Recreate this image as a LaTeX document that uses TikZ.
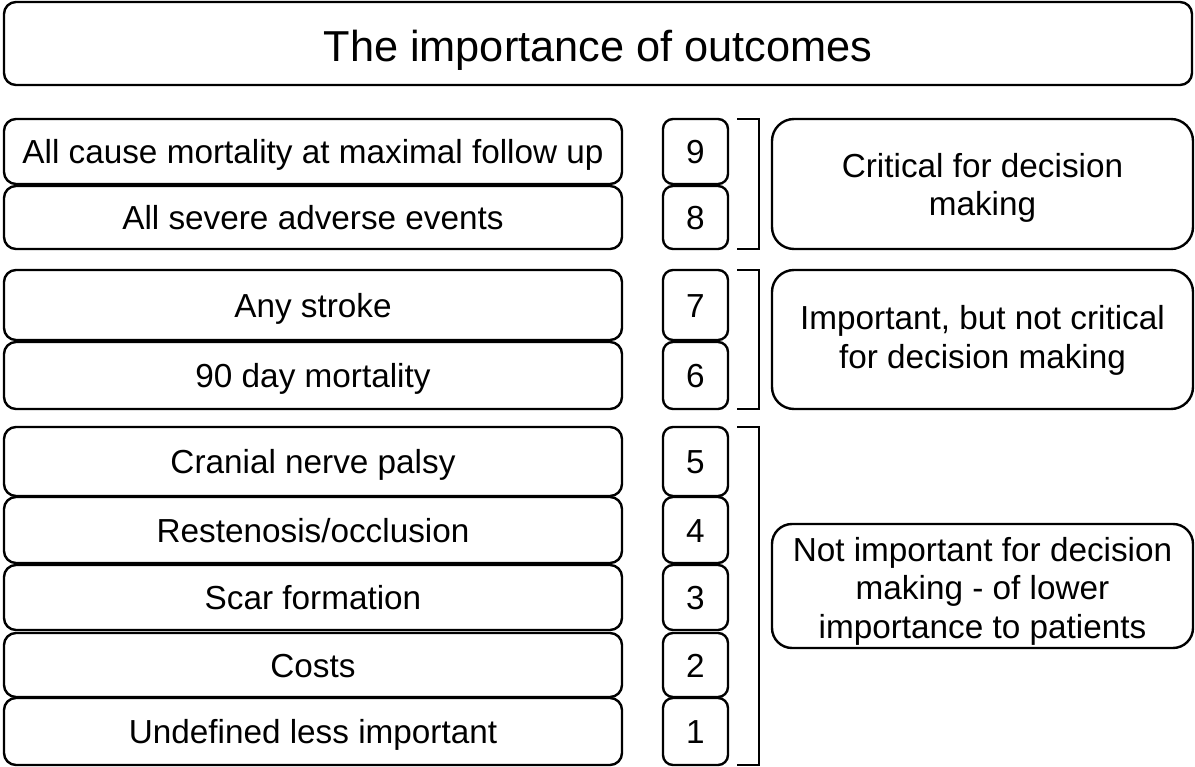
\documentclass[tikz,border=0pt]{standalone}
\usepackage{fontspec}
\setmainfont{Liberation Sans}
\begin{document}
\begin{tikzpicture}[x=1pt,y=-1pt,
  box/.style={draw=black, line width=2.4pt, rounded corners=12pt, inner sep=0pt},
  oneline/.style={text height=24.6pt, text depth=0pt},
  itembox/.style={box, oneline, minimum width=618pt, font=\fontsize{33.3}{38}\selectfont},
  numbox/.style={box, oneline, rounded corners=10pt, minimum width=65pt, font=\fontsize{33.3}{38}\selectfont},
  groupbox/.style={box, rounded corners=22pt, minimum width=421pt},
  grouptext/.style={align=center, inner sep=0pt, font=\fontsize{33.3}{38.5}\selectfont},
  bracket/.style={draw=black, line width=2.4pt}
]
\useasboundingbox (0,0) rectangle (1195,767);

% title
\node[box, text height=36.8pt, text depth=0pt, minimum width=1188pt, minimum height=83pt,
      font=\fontsize{43.3}{50}\selectfont] (title) at (598,43.5) {The importance of outcomes};

% outcome rows
\node[itembox, minimum height=65pt] (o9) at (313,151.5) {All cause mortality at maximal follow up};
\node[itembox, minimum height=63pt] (o8) at (313,217.5) {All severe adverse events};
\node[itembox, minimum height=70pt] (o7) at (313,305) {Any stroke};
\node[itembox, minimum height=67pt] (o6) at (313,375.5) {90 day mortality};
\node[itembox, minimum height=69pt] (o5) at (313,461.5) {Cranial nerve palsy};
\node[itembox, minimum height=66pt] (o4) at (313,530) {Restenosis/occlusion};
\node[itembox, minimum height=65pt] (o3) at (313,597.5) {Scar formation};
\node[itembox, minimum height=64pt] (o2) at (313,665) {Costs};
\node[itembox, minimum height=67pt] (o1) at (313,731.5) {Undefined less important};

% scores
\node[numbox, minimum height=65pt] (n9) at (695.5,151.5) {9};
\node[numbox, minimum height=63pt] (n8) at (695.5,217.5) {8};
\node[numbox, minimum height=70pt] (n7) at (695.5,305) {7};
\node[numbox, minimum height=67pt] (n6) at (695.5,375.5) {6};
\node[numbox, minimum height=69pt] (n5) at (695.5,461.5) {5};
\node[numbox, minimum height=66pt] (n4) at (695.5,530) {4};
\node[numbox, minimum height=65pt] (n3) at (695.5,597.5) {3};
\node[numbox, minimum height=64pt] (n2) at (695.5,665) {2};
\node[numbox, minimum height=67pt] (n1) at (695.5,731.5) {1};

% category boxes and their captions
\node[groupbox, minimum height=130pt] (g1) at (982.5,184) {};
\node[grouptext] (g1t) at ([yshift=-4pt]g1.center) {Critical for decision\\making};
\node[groupbox, minimum height=139pt] (g2) at (982.5,339.5) {};
\node[grouptext] (g2t) at ([yshift=-1pt]g2.center) {Important, but not critical\\for decision making};
\node[groupbox, rounded corners=20pt, minimum height=124pt] (g3) at (982.5,586) {};
\node[grouptext] (g3t) at ([yshift=-5pt]g3.center) {Not important for decision\\making - of lower\\importance to patients};

% brackets grouping the scores
\coordinate (b1t) at (737,119);  \coordinate (b1b) at (737,249);
\coordinate (b2t) at (737,270);  \coordinate (b2b) at (737,409);
\coordinate (b3t) at (737,427);  \coordinate (b3b) at (737,765);
\draw[bracket] (b1t) -- ++(22,0) |- (b1b);
\draw[bracket] (b2t) -- ++(22,0) |- (b2b);
\draw[bracket] (b3t) -- ++(22,0) |- (b3b);
\end{tikzpicture}
\end{document}
